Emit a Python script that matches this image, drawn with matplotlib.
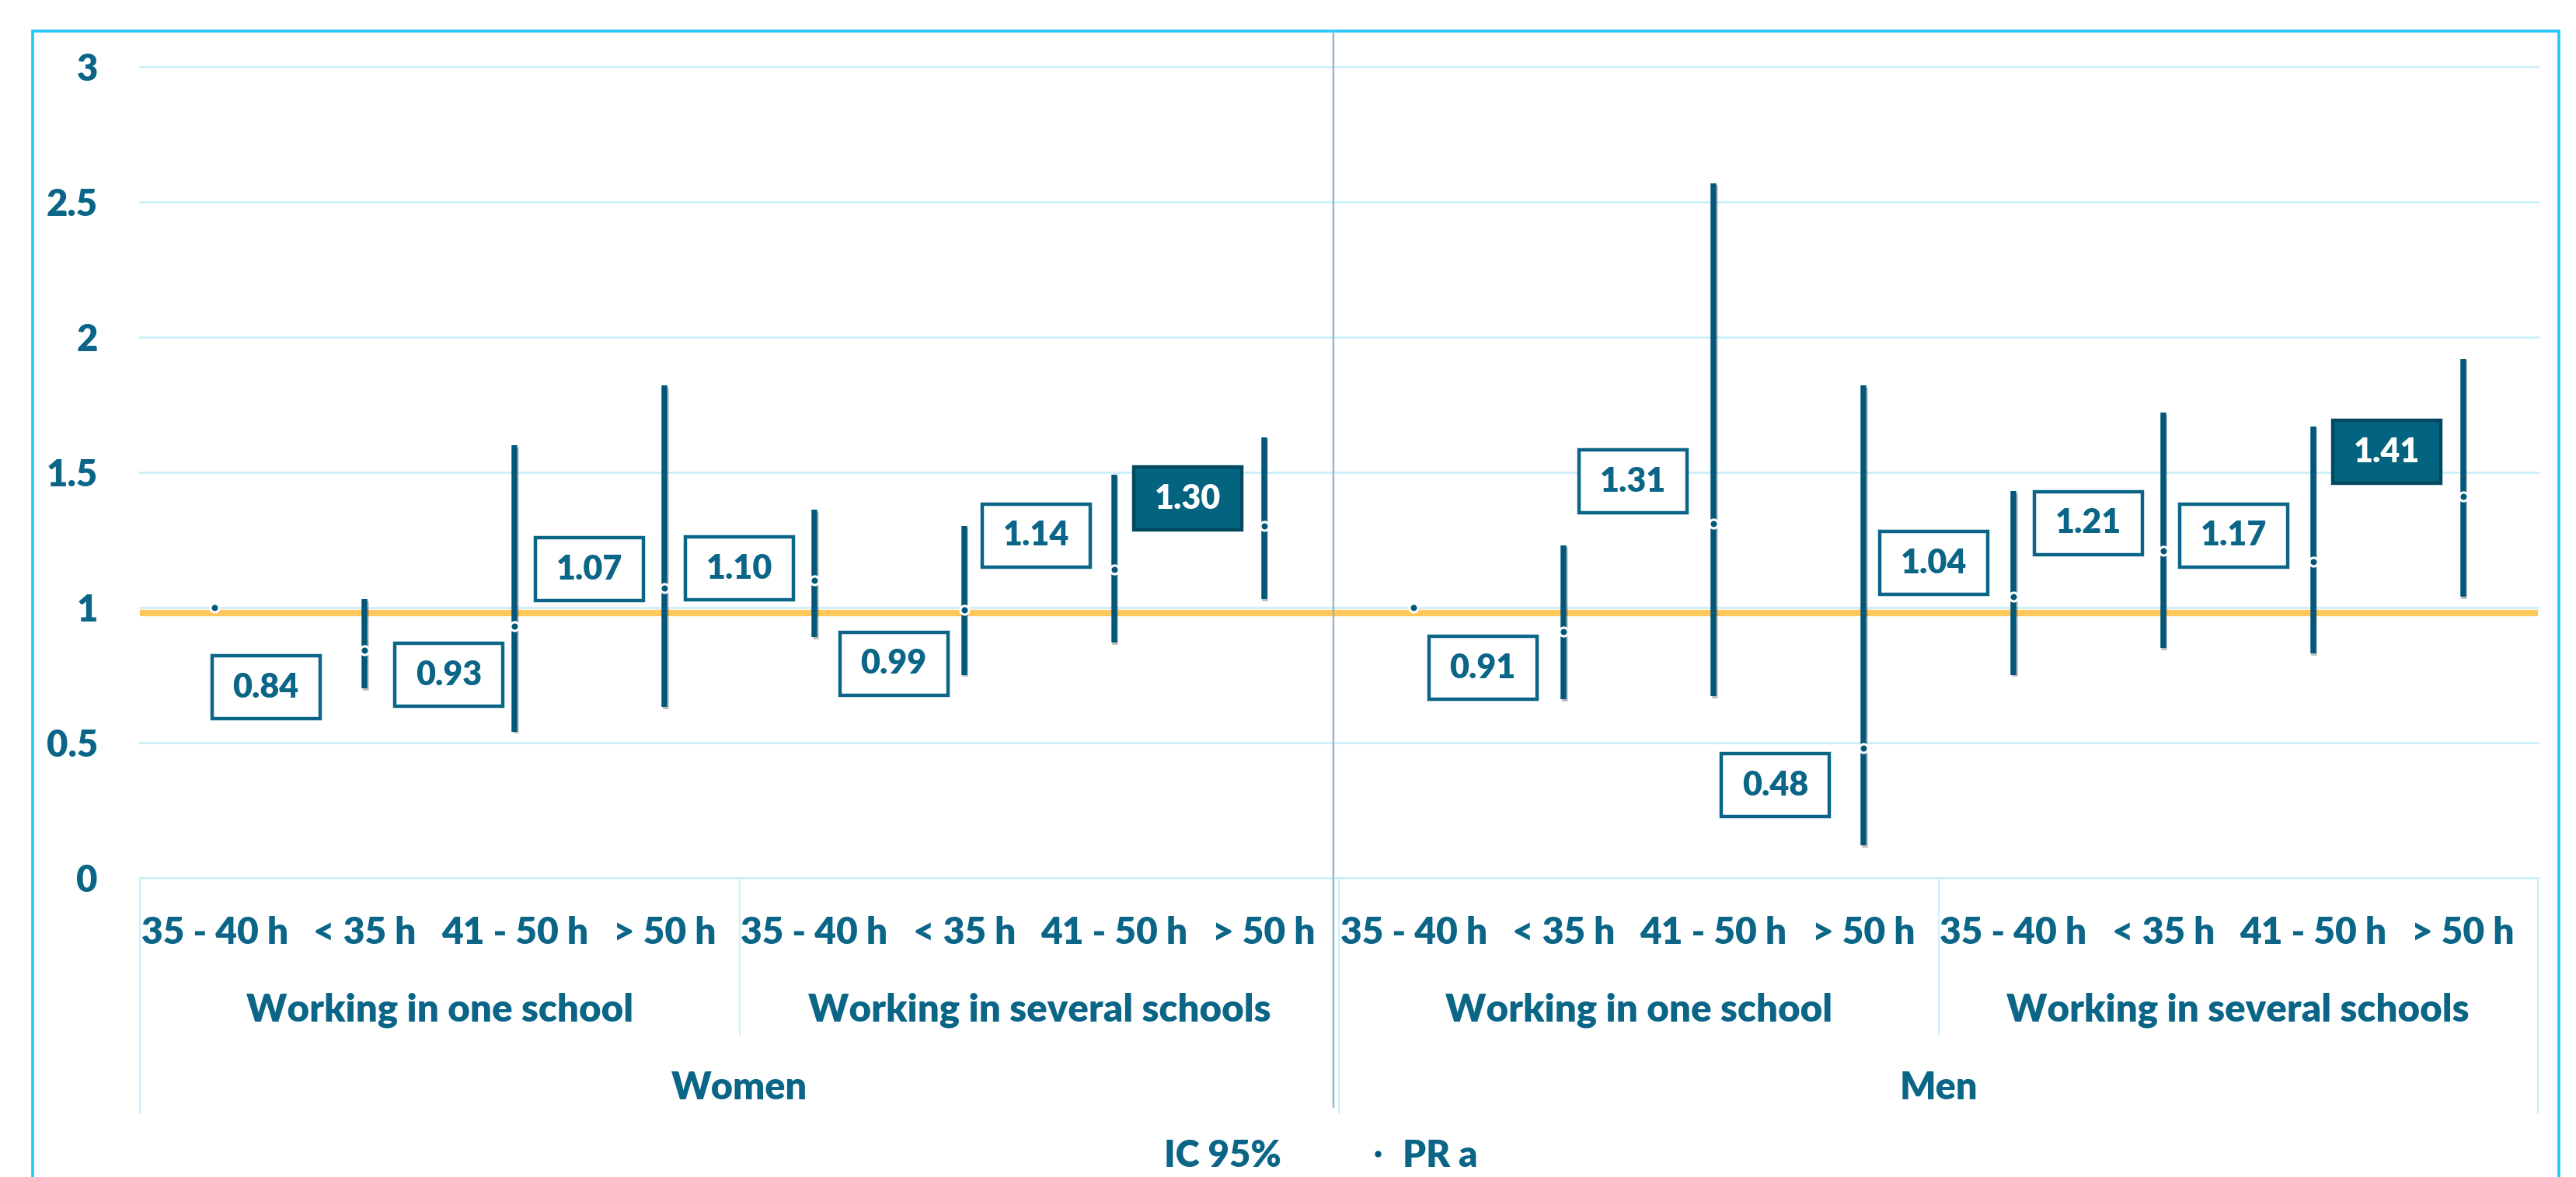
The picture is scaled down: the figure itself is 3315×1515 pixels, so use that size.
import matplotlib
matplotlib.use('Agg')
import matplotlib.pyplot as plt
import matplotlib.patheffects as pe
from matplotlib.lines import Line2D
from matplotlib.patches import Rectangle
from matplotlib.transforms import blended_transform_factory
import numpy as np

# categories (sex > school > weekly hours)
hours = ['35 - 40 h', '< 35 h', '41 - 50 h', '> 50 h']
schools = ['Working in one school', 'Working in several schools']
sexes = ['Women', 'Men']

# adjusted prevalence ratio and 95% CI, 16 cells
pr_a = [1.00, 0.84, 0.93, 1.07, 1.10, 0.99, 1.14, 1.30,
        1.00, 0.91, 1.31, 0.48, 1.04, 1.21, 1.17, 1.41]
ci_low = [np.nan, 0.70, 0.54, 0.63, 0.89, 0.75, 0.87, 1.03,
          np.nan, 0.66, 0.67, 0.12, 0.75, 0.85, 0.83, 1.04]
ci_high = [np.nan, 1.03, 1.60, 1.82, 1.36, 1.30, 1.49, 1.63,
           np.nan, 1.23, 2.57, 1.82, 1.43, 1.72, 1.67, 1.92]
significant = [7, 15]
reference_line = 0.98

# where the value boxes sit (layout only)
label_dx = [0, -0.66, -0.44, -0.50, -0.50, -0.47, -0.52, -0.51,
            0, -0.54, -0.54, -0.59, -0.53, -0.50, -0.53, -0.51]
label_y = [np.nan, 0.703, 0.750, 1.141, 1.143, 0.792, 1.266, 1.402,
           np.nan, 0.775, 1.465, 0.341, 1.163, 1.311, 1.266, 1.575]

TXT = '#0A6587'
BAR = '#03587A'
GRID = '#CBEFFC'
WEIGHT = 'heavy'
plt.rcParams['font.family'] = ['Lato', 'DejaVu Sans']
plt.rcParams['font.weight'] = WEIGHT

W, H = 3315, 1515
fig = plt.figure(figsize=(W / 100, H / 100), dpi=100)
ax = fig.add_axes([180 / W, (H - 1129.5) / H, (3266 - 180) / W, (1129.5 - 86) / H])

n = len(pr_a)
x = np.arange(n)
ax.set_xlim(-0.5, n - 0.5)
ax.set_ylim(0, 3)
for s in ax.spines.values():
    s.set_visible(False)

yt = np.arange(0, 3.01, 0.5)
for v in yt:
    ax.axhline(v, color=GRID, lw=2, zorder=0.5, clip_on=False)
ax.set_yticks(yt)
ax.set_yticklabels(['0', '0.5', '1', '1.5', '2', '2.5', '3'], fontweight=WEIGHT)
ax.tick_params(axis='y', length=0, pad=39, labelsize=34, labelcolor=TXT)
ax.set_xticks([])

ax.axhline(reference_line, color='#FFC85C', lw=6, zorder=1)

shadow = [pe.SimpleLineShadow(offset=(1.2, -2), shadow_color='k', alpha=0.25), pe.Normal()]
ax.vlines(x, ci_low, ci_high, color=BAR, lw=5.4, zorder=2, path_effects=shadow)
ax.plot(x, pr_a, ls='none', marker='o', ms=8, mfc=BAR, mec='white', mew=2.2, zorder=3)

bw, bh = 139 / 192.9, 81 / 347.8
for i in range(n):
    if np.isnan(ci_low[i]):
        continue
    cx, cy = x[i] + label_dx[i], label_y[i]
    if i in significant:
        fc, ec, tc = '#04637F', '#03485F', 'white'
    else:
        fc, ec, tc = 'white', TXT, TXT
    ax.add_patch(Rectangle((cx - bw / 2, cy - bh / 2), bw, bh, fc=fc, ec=ec, lw=3.2, zorder=4))
    ax.text(cx, cy, f'{pr_a[i]:.2f}', ha='center', va='center', fontsize=31,
            color=tc, fontweight=WEIGHT, zorder=5)

# multi-level category axis
trans = blended_transform_factory(ax.transData, ax.transAxes)
for i in range(n):
    ax.text(i, -0.0819, hours[i % 4], transform=trans, ha='center', va='baseline',
            fontsize=34.5, color=TXT)
for g in range(4):
    ax.text(g * 4 + 1.5, -0.1777, schools[g % 2], transform=trans, ha='center',
            va='baseline', fontsize=35.5, color=TXT)
for s in range(2):
    ax.text(s * 8 + 3.5, -0.2736, sexes[s], transform=trans, ha='center',
            va='baseline', fontsize=35, color=TXT)
for b in [-0.5, 3.5, 7.5, 11.5, 15.5]:
    bottom = -0.194 if b in (3.5, 11.5) else -0.290
    ax.plot([b, b], [0, bottom], transform=trans, color=GRID, lw=1.5, clip_on=False)

# divider between women and men, and outer frame
fig.add_artist(Line2D([1716 / W, 1716 / W], [(H - 40) / H, (H - 1425) / H],
                      transform=fig.transFigure, color='#97B6CB', lw=1.7))
fig.add_artist(Rectangle((42 / W, -0.02), (3293 - 42) / W, 0.02 + (H - 40) / H,
                         transform=fig.transFigure, fill=False, ec='#22C7F7', lw=2.6))

# legend
ly = (H - 1502) / H
fig.text(1498 / W, ly, 'IC 95%', ha='left', va='baseline', fontsize=34, color=TXT)
fig.add_artist(Line2D([1773 / W], [(H - 1485) / H], transform=fig.transFigure,
                      marker='o', ms=5, color=BAR, ls='none'))
fig.text(1805 / W, ly, 'PR a', ha='left', va='baseline', fontsize=34, color=TXT)

fig.savefig('out.png', dpi=100)
